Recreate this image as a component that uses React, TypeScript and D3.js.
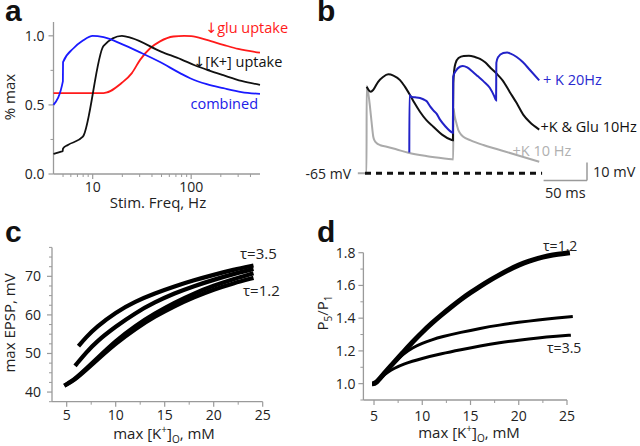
import React from "react";
import * as d3 from "d3";

const FONT = "'Open Sans', 'DejaVu Sans', sans-serif";
const LETTER_FONT = "'Liberation Sans', Arial, sans-serif";
const AXIS = "#9a9a9a";
const TXT = "#222";

// ---------- Panel a: [stim frequency (Hz), fraction of max]
const aCombined: [number, number][] = [
  [4, 0.5], [4.98, 0.67], [5.0, 0.81], [6.39, 0.91], [7.95, 0.966], [10, 1.0], [12.9, 0.99],
  [19.8, 0.94], [30.3, 0.88], [48.3, 0.81], [77, 0.73], [97.6, 0.693], [144, 0.65],
  [212, 0.621], [324, 0.593], [500, 0.58],
];
const aKUptake: [number, number][] = [
  [4, 0.145], [4.7, 0.16], [4.95, 0.165], [5.0, 0.185], [5.6, 0.21], [7.95, 0.27], [12.9, 0.928],
  [19.8, 1.0], [25, 0.983], [49.4, 0.886], [79, 0.83], [110, 0.785], [150, 0.75], [212, 0.715],
  [324, 0.674], [500, 0.645],
];
const aGluUptake: [number, number][] = [
  [4, 0.585], [12.9, 0.585], [19.8, 0.66], [25, 0.73], [30.3, 0.826], [38.3, 0.91], [48.3, 0.96],
  [66, 0.995], [85, 1.0], [100, 0.998], [144, 0.97], [212, 0.935], [300, 0.905], [500, 0.878],
];
const aXMajor = [10, 100];
const aYMajor = [0, 0.5, 1.0];
const aYMinor = [0.25, 0.75];

// ---------- Panel b: [time (ms), mV above -65 mV]
const bK10: [number, number][] = [
  [-10, 0], [0, 0], [0.2, 48.5], [2.1, 44.4], [4, 37], [6, 27.8], [7.8, 20.3], [9.5, 18], [11.8, 16.7],
  [16, 15.6], [23.3, 14.8], [35, 13.2], [48.2, 11.4], [70, 9.5], [98.2, 7.8], [99.9, 7.7],
  [100.1, 36.1], [101.5, 32], [103.1, 28.7], [105.8, 24], [108.5, 21.8], [111.5, 20.3], [120, 18.3],
  [134.6, 15.7], [150, 13.5], [173, 10.2], [199, 6.4],
];
const bKGlu10: [number, number][] = [
  [0.2, 48.1], [2.5, 46.2], [5, 45.3], [8, 46.5], [13.2, 50.7], [19, 53.5], [25.1, 55], [31, 54.3],
  [38.6, 51.8], [44, 48.3], [50.1, 43.5], [55, 39.3], [61.6, 34.2], [69, 29.5], [77, 25.9], [87, 21.5],
  [98.2, 18.5], [99.6, 18.3], [100, 50], [101, 57], [102.5, 61], [106, 64], [112, 65.2], [118, 65.3],
  [125, 64.6], [130.8, 63.6], [137, 61.5], [143, 58.5], [150, 55.3], [157, 51.5], [165, 45.2],
  [173, 39], [180.5, 32.6], [188, 28.5], [199, 24.3],
];
const bK20: [number, number][] = [
  [49.3, 11.5], [49.5, 43.5], [52, 42.4], [56, 42.2], [61.6, 41.8], [66, 41], [69.4, 40], [73.3, 37.2],
  [77, 35], [80.9, 33], [84.7, 29.8], [91, 26], [98.2, 22.8], [99.5, 22.5], [99.9, 53.7], [103, 57],
  [107.6, 59.2], [111, 59.6], [116, 58.8], [122, 56.5], [128, 54], [134.6, 51.2], [142, 47.5],
  [147, 43], [149.3, 40.5], [149.6, 61.3], [151.5, 64.5], [157.5, 66.8], [162, 67.1], [166, 66.5],
  [173, 64.6], [180, 61.8], [188.3, 57.4], [199, 51.6],
];
const bBaselineSpan = [0, 200]; // ms
const bScaleBar = { ms: 50, mV: 10 };

// ---------- Panel c: [max [K+]o (mM), max EPSP (mV)]
const cTrace1: [number, number][] = [
  [6.2, 51.9], [7, 54.3], [8, 56.8], [10, 60.7], [12, 63.5], [14, 65.6], [16, 67.4], [18, 69],
  [20, 70.4], [22, 71.7], [24.06, 72.8],
];
const cTrace2: [number, number][] = [
  [5.85, 46.8], [7, 50.3], [8, 53], [10, 57], [12, 60.5], [14, 63.3], [16, 65.6], [18, 67.5],
  [20, 69.1], [22, 70.6], [24.06, 71.9],
];
const cTrace3: [number, number][] = [
  [4.76, 41.65], [5.5, 42.8], [6, 43.8], [7, 46.1], [8, 48.5], [10, 53.3], [12, 57.2], [14, 60.4],
  [16, 63.2], [18, 65.6], [20, 67.6], [22, 69.3], [24.06, 70.8],
];
const cTrace4: [number, number][] = [
  [4.76, 41.65], [5.5, 42.7], [6, 43.6], [7, 45.8], [8, 48.1], [10, 52.6], [12, 56.4], [14, 59.6],
  [16, 62.3], [18, 64.6], [20, 66.6], [22, 68.2], [24.06, 69.6],
];
const cXMajor = [5, 10, 15, 20, 25];
const cYMajor = [40, 50, 60, 70];

// ---------- Panel d: [max [K+]o (mM), P5/P1]
const dTau12: [number, number][] = [
  [4.8, 1.0], [5.2, 1.0], [6, 1.06], [7, 1.125], [8, 1.19], [9, 1.255], [10, 1.315], [11, 1.37],
  [12, 1.42], [13, 1.468], [14, 1.515], [15, 1.556], [16, 1.595], [17, 1.632], [18, 1.665],
  [19, 1.697], [20, 1.725], [21, 1.748], [22, 1.766], [23, 1.78], [24, 1.791], [25.3, 1.8],
];
const dMid: [number, number][] = [
  [4.8, 1.0], [5.2, 1.0], [6, 1.062], [7, 1.124], [8, 1.18], [9, 1.22], [10, 1.247], [11, 1.268],
  [12, 1.286], [14, 1.314], [16, 1.338], [18, 1.358], [20, 1.375], [22, 1.39], [24, 1.402],
  [25.6, 1.41],
];
const dTau35: [number, number][] = [
  [4.8, 1.0], [5.2, 1.0], [5.8, 1.042], [6.5, 1.073], [7, 1.09], [8, 1.12], [10, 1.155], [12, 1.183],
  [14, 1.207], [16, 1.23], [18, 1.25], [20, 1.266], [22, 1.28], [24, 1.29], [25.4, 1.296],
];
const dXMajor = [5, 10, 15, 20, 25];
const dYMajor = [1.0, 1.2, 1.4, 1.6, 1.8];

function YAxis(props: { y: any; x: number; major: number[]; minor: number[]; fmt: (v: number) => string; gap: number }) {
  const { y, x, major, minor, fmt, gap } = props;
  const r = y.range();
  return (
    <g>
      <line x1={x} x2={x} y1={r[0]} y2={r[1]} stroke={AXIS} strokeWidth={1.3} />
      {minor.map((v) => (
        <line key={"m" + v} x1={x - 3} x2={x} y1={y(v)} y2={y(v)} stroke={AXIS} strokeWidth={1} />
      ))}
      {major.map((v) => (
        <g key={"M" + v}>
          <line x1={x - 5} x2={x} y1={y(v)} y2={y(v)} stroke={AXIS} strokeWidth={1.2} />
          <text x={x - gap} y={y(v) + 5} textAnchor="end" fontSize={14} fill={TXT} fontFamily={FONT}>
            {fmt(v)}
          </text>
        </g>
      ))}
    </g>
  );
}

function XAxis(props: { x: any; y: number; major: number[]; minor: number[]; fmt: (v: number) => string; labelY: number }) {
  const { x, y, major, minor, fmt, labelY } = props;
  const r = x.range();
  return (
    <g>
      <line x1={r[0]} x2={r[1]} y1={y} y2={y} stroke={AXIS} strokeWidth={1.3} />
      {minor.map((v) => (
        <line key={"m" + v} x1={x(v)} x2={x(v)} y1={y} y2={y + 3} stroke={AXIS} strokeWidth={1} />
      ))}
      {major.map((v) => (
        <g key={"M" + v}>
          <line x1={x(v)} x2={x(v)} y1={y} y2={y + 5} stroke={AXIS} strokeWidth={1.2} />
          <text x={x(v)} y={labelY} textAnchor="middle" fontSize={14} fill={TXT} fontFamily={FONT}>
            {fmt(v)}
          </text>
        </g>
      ))}
    </g>
  );
}

function KoTitle(props: { x: number; y: number }) {
  return (
    <text x={props.x} y={props.y} textAnchor="middle" fontSize={15} fill={TXT} fontFamily={FONT}>
      max [K
      <tspan dy={-6} fontSize={10}>+</tspan>
      <tspan dy={6}>]</tspan>
      <tspan dy={4} fontSize={10}>O</tspan>
      <tspan dy={-4}>, mM</tspan>
    </text>
  );
}

export default function App() {
  // Panel a scales
  const xA = d3.scaleLog().domain([4, 500]).range([53.5, 260]);
  const yA = d3.scaleLinear().domain([0, 1.1]).range([174, 22]);
  const lineA = d3
    .line<[number, number]>()
    .x((d) => xA(d[0]))
    .y((d) => yA(d[1]))
    .curve(d3.curveMonotoneX);
  const aMinor = xA.ticks().filter((v) => v > 4 && v < 500 && !aXMajor.includes(v));

  // Panel b scales
  const xB = d3.scaleLinear().domain([0, 200]).range([366.5, 540.1]);
  const yB = d3.scaleLinear().domain([0, 10]).range([173.3, 155.3]);
  const lineB = d3
    .line<[number, number]>()
    .x((d) => xB(d[0]))
    .y((d) => yB(d[1]))
    .curve(d3.curveMonotoneX);

  // Panel c scales
  const xC = d3.scaleLinear().domain([3.5, 25]).range([52, 262.7]);
  const yC = d3.scaleLinear().domain([37.5, 77.5]).range([401.7, 247.4]);
  const lineC = d3
    .line<[number, number]>()
    .x((d) => xC(d[0]))
    .y((d) => yC(d[1]))
    .curve(d3.curveBasis);
  const cXMinor = d3.range(7.5, 25, 5);
  const cYMinor = d3.range(37.5, 78, 2.5).filter((v) => !cYMajor.includes(v));

  // Panel d scales
  const xD = d3.scaleLinear().domain([3.9, 25]).range([363.4, 567]);
  const yD = d3.scaleLinear().domain([0.9, 1.8]).range([400, 252.7]);
  const lineD = d3
    .line<[number, number]>()
    .x((d) => xD(d[0]))
    .y((d) => yD(d[1]))
    .curve(d3.curveBasis);
  const dXMinor = d3.range(7.5, 25, 5);
  const dYMinor = [0.9, 1.1, 1.3, 1.5, 1.7];

  const sbRight = 587;
  const sbBottom = 180.5;

  return (
    <svg
      width={640}
      height={446}
      style={{ position: "absolute", left: 0, top: 0, background: "#fff" }}
      fontFamily={FONT}
    >
      <rect x={0} y={0} width={640} height={446} fill="#fff" />

      {/* Panel letters */}
      <text x={5} y={21} fontSize={30} fontWeight="bold" fontFamily={LETTER_FONT} fill="#111">a</text>
      <text x={317} y={21} fontSize={30} fontWeight="bold" fontFamily={LETTER_FONT} fill="#111">b</text>
      <text x={5} y={242} fontSize={30} fontWeight="bold" fontFamily={LETTER_FONT} fill="#111">c</text>
      <text x={317} y={242} fontSize={30} fontWeight="bold" fontFamily={LETTER_FONT} fill="#111">d</text>

      {/* ---------------- Panel a ---------------- */}
      <YAxis y={yA} x={53.5} major={aYMajor} minor={aYMinor} fmt={(v) => v.toFixed(1)} gap={9} />
      <XAxis x={xA} y={174} major={aXMajor} minor={aMinor} fmt={(v) => String(v)} labelY={192} />
      <text x={158} y={208} textAnchor="middle" fontSize={15} fill={TXT}>Stim. Freq, Hz</text>
      <text transform="translate(15,97) rotate(-90)" textAnchor="middle" fontSize={15} fill={TXT}>% max</text>
      <path d={lineA(aGluUptake) || ""} fill="none" stroke="#ff1a1a" strokeWidth={1.8} />
      <path d={lineA(aKUptake) || ""} fill="none" stroke="#111" strokeWidth={1.8} />
      <path d={lineA(aCombined) || ""} fill="none" stroke="#1a1aff" strokeWidth={1.8} />
      <text x={205} y={33} fontSize={14.5} fill="#ff1a1a">↓glu uptake</text>
      <text x={193} y={67} fontSize={14.5} fill="#111">↓[K+] uptake</text>
      <text x={258} y={109} textAnchor="end" fontSize={14.5} fill="#2020e8">combined</text>

      {/* ---------------- Panel b ---------------- */}
      <path d={lineB(bK10) || ""} fill="none" stroke="#aaaaaa" strokeWidth={2} />
      <path d={lineB(bKGlu10) || ""} fill="none" stroke="#111" strokeWidth={2} />
      <path d={lineB(bK20) || ""} fill="none" stroke="#2222c8" strokeWidth={2} />
      <line
        x1={xB(bBaselineSpan[0]) - 1.5}
        x2={xB(bBaselineSpan[1]) + 2}
        y1={yB(0)}
        y2={yB(0)}
        stroke="#111"
        strokeWidth={3}
        strokeDasharray="6 5"
      />
      <text x={351} y={179} textAnchor="end" fontSize={14} fill={TXT}>-65 mV</text>
      {/* scale bars */}
      <line x1={sbRight} x2={sbRight} y1={sbBottom} y2={sbBottom - (yB(0) - yB(bScaleBar.mV))} stroke={AXIS} strokeWidth={1.5} />
      <line x1={sbRight - (xB(bScaleBar.ms) - xB(0))} x2={sbRight} y1={sbBottom} y2={sbBottom} stroke={AXIS} strokeWidth={1.5} />
      <text x={593} y={177} fontSize={14.5} fill={TXT}>10 mV</text>
      <text x={545} y={198} fontSize={14.5} fill={TXT}>50 ms</text>
      <text x={543} y={84.5} fontSize={14.5} fill="#2a2ad0">+ K 20Hz</text>
      <text x={540.5} y={132} fontSize={14.5} fill="#111">+K &amp; Glu 10Hz</text>
      <text x={512.5} y={155.5} fontSize={14.5} fill="#b0b0b0">+K 10 Hz</text>

      {/* ---------------- Panel c ---------------- */}
      <YAxis y={yC} x={52} major={cYMajor} minor={cYMinor} fmt={(v) => String(v)} gap={11} />
      <XAxis x={xC} y={401.7} major={cXMajor} minor={cXMinor} fmt={(v) => String(v)} labelY={420} />
      <KoTitle x={164} y={439} />
      <text transform="translate(15,323) rotate(-90)" textAnchor="middle" fontSize={15} fill={TXT}>max EPSP, mV</text>
      {[cTrace4, cTrace3, cTrace2, cTrace1].map((t, i) => (
        <path key={i} d={lineC(t) || ""} fill="none" stroke="#000" strokeWidth={4.2} />
      ))}
      <text x={240} y={259} fontSize={15} fill={TXT}>τ=3.5</text>
      <text x={243} y={296} fontSize={15} fill={TXT}>τ=1.2</text>

      {/* ---------------- Panel d ---------------- */}
      <YAxis y={yD} x={363.4} major={dYMajor} minor={dYMinor} fmt={(v) => v.toFixed(1)} gap={8} />
      <XAxis x={xD} y={400} major={dXMajor} minor={dXMinor} fmt={(v) => String(v)} labelY={421} />
      <KoTitle x={469} y={438} />
      <text transform="translate(328,313) rotate(-90)" textAnchor="middle" fontSize={15} fill={TXT}>
        P<tspan dy={4} fontSize={10}>5</tspan>
        <tspan dy={-4}>/P</tspan>
        <tspan dy={4} fontSize={10}>1</tspan>
      </text>
      <path d={lineD(dTau35) || ""} fill="none" stroke="#000" strokeWidth={3} />
      <path d={lineD(dMid) || ""} fill="none" stroke="#000" strokeWidth={3} />
      <path d={lineD(dTau12) || ""} fill="none" stroke="#000" strokeWidth={5} />
      <text x={543} y={251} fontSize={14} fill={TXT}>τ=1.2</text>
      <text x={547} y={352.5} fontSize={14} fill={TXT}>τ=3.5</text>
    </svg>
  );
}
